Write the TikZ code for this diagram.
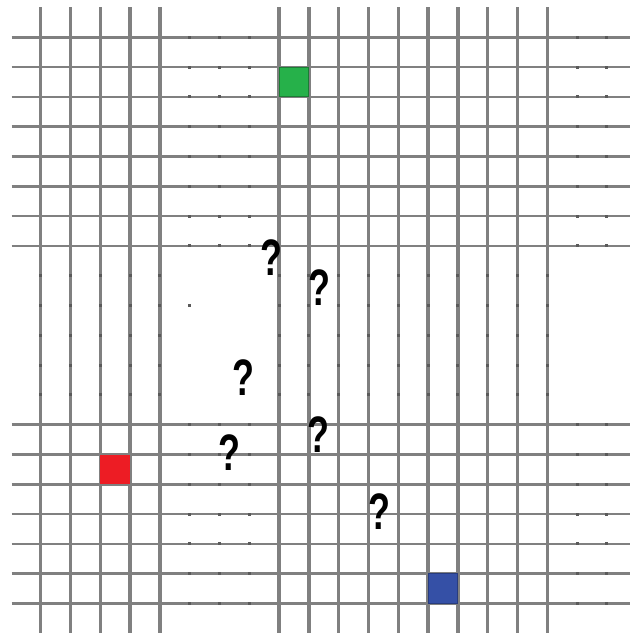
\documentclass[tikz,border=0pt]{standalone}
\usepackage{fontspec}
\usepackage{graphicx}
\setmainfont{Liberation Sans}
\usetikzlibrary{positioning}
\definecolor{gridgray}{HTML}{808080}
\definecolor{tickgray}{HTML}{5A5A5A}
\definecolor{cellgreen}{HTML}{26B14A}
\definecolor{cellred}{HTML}{ED1C24}
\definecolor{cellblue}{HTML}{3550A6}
\tikzstyle{cell} = [rectangle, minimum size=1cm, inner sep=0pt, line width=0.8pt]
\tikzstyle{query} = [inner sep=0pt, font=\fontsize{49}{49}\selectfont\bfseries]
\tikzstyle{hline} = [gridgray, line width=2.4pt]
\tikzstyle{vline} = [gridgray, line width=3.3pt]
\newcommand{\qmark}{\scalebox{0.7}[1]{?}}

\begin{document}
\begin{tikzpicture}
    \useasboundingbox (-1.366,1.252) rectangle (19.775,-19.99);
    % grid lines
    \foreach \r in {0,1,2,3,4,5,6,7,13,14,15,16,17,18,19}
        \draw[hline] (-0.973,-\r) -- (19.775,-\r);
    \foreach \c in {0,1,2,3,4,8,9,10,11,12,13,14,15,16,17}
        \draw[vline] (\c,1.017) -- (\c,-19.99);
    % marks where hidden lines cross
    \foreach \r in {0,1,2,3,4,5,6,7,13,14,15,16,17,18,19}
        \foreach \c in {5,6,7,18,19}
            \fill[tickgray] (\c-0.05,-\r-0.05) rectangle ++(0.1,0.1);
    \foreach \c in {0,1,2,3,4,8,9,10,11,12,13,14,15,16,17}
        \foreach \r in {8,9,10,11,12}
            \fill[tickgray] (\c-0.05,-\r-0.05) rectangle ++(0.1,0.1);
    \fill[tickgray] (4.95,-9.05) rectangle ++(0.1,0.1);

    \node (greencell)[cell, fill=cellgreen, draw=cellgreen!70!black] at (8.5,-1.5) {};
    \node (redcell)[cell, fill=cellred] at (2.5,-14.5) {};
    \node (bluecell)[cell, fill=cellblue, draw=cellblue!75!black] at (13.5,-18.5) {};

    \node (q1)[query] at (7.76,-7.40) {\qmark};
    \node (q2)[query] at (9.37,-8.41) {\qmark};
    \node (q3)[query] at (6.79,-11.43) {\qmark};
    \node (q4)[query] at (9.31,-13.34) {\qmark};
    \node (q5)[query] at (6.35,-13.95) {\qmark};
    \node (q6)[query] at (11.38,-15.90) {\qmark};
\end{tikzpicture}
\end{document}
